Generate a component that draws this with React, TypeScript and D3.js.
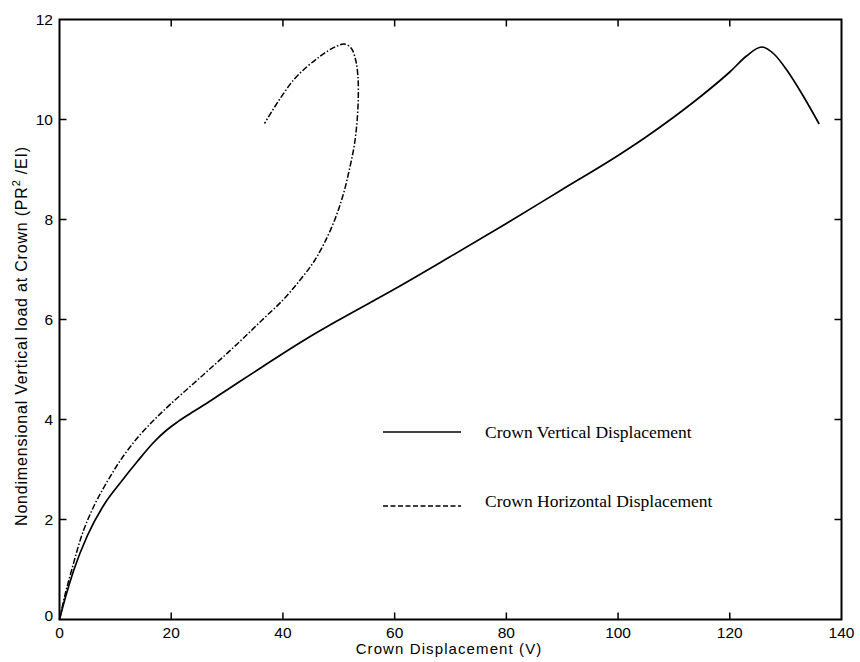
import React, { useEffect, useRef } from "react";
import * as d3 from "d3";

// Crown vertical displacement (solid)
const vertDisp = [0, 1, 2.5, 5, 8, 11, 14, 17, 19, 21, 23, 26, 29, 32, 36, 40, 44, 50, 60, 70, 80, 90, 100, 105, 110, 115, 120, 123, 125.7, 128, 130.2, 133.2, 136];
const vertLoad = [0, 0.42, 0.97, 1.68, 2.3, 2.75, 3.17, 3.56, 3.77, 3.94, 4.09, 4.3, 4.52, 4.74, 5.03, 5.32, 5.6, 5.99, 6.61, 7.26, 7.92, 8.6, 9.28, 9.65, 10.05, 10.48, 10.95, 11.27, 11.45, 11.3, 10.99, 10.46, 9.91];

// Crown horizontal displacement (dash-dot)
const horDisp = [0, 1, 2.2, 4.2, 6.3, 8.5, 11, 14, 17, 20, 24, 28, 32, 36, 40, 43, 45.5, 47.5, 49.3, 50.8, 51.9, 52.8, 53.3, 53.5, 53.4, 53, 52.2, 51, 49.5, 46.6, 41.9, 36.7];
const horLoad = [0, 0.5, 1, 1.75, 2.3, 2.75, 3.2, 3.64, 4, 4.32, 4.72, 5.12, 5.53, 5.96, 6.39, 6.78, 7.15, 7.55, 8, 8.5, 9, 9.5, 10, 10.5, 10.9, 11.2, 11.43, 11.51, 11.46, 11.26, 10.79, 9.92];

const xTicks = [0, 20, 40, 60, 80, 100, 120, 140];
const yTicks = [0, 2, 4, 6, 8, 10, 12];

const legendLabels = ["Crown Vertical Displacement", "Crown Horizontal Displacement"];

export default function App() {
  const ref = useRef<SVGSVGElement>(null);

  useEffect(() => {
    const svg = d3.select(ref.current);
    svg.selectAll("*").remove();

    const left = 59.5, right = 841.5, top = 19.5, bottom = 619.5;
    const x = d3.scaleLinear().domain([0, 140]).range([left, right]);
    const y = d3.scaleLinear().domain([0, 12]).range([bottom, top]);
    const sans = "'Liberation Sans', Arial, sans-serif";
    const serif = "'Liberation Serif', 'Times New Roman', serif";

    // frame
    svg.append("rect")
      .attr("x", left).attr("y", top)
      .attr("width", right - left).attr("height", bottom - top)
      .attr("fill", "none").attr("stroke", "#000").attr("stroke-width", 2);

    // inward ticks on all four sides
    const tl = 7;
    xTicks.slice(1, -1).forEach((t) => {
      svg.append("line").attr("x1", x(t)).attr("x2", x(t)).attr("y1", bottom).attr("y2", bottom - tl)
        .attr("stroke", "#000").attr("stroke-width", 1.5);
      svg.append("line").attr("x1", x(t)).attr("x2", x(t)).attr("y1", top).attr("y2", top + tl)
        .attr("stroke", "#000").attr("stroke-width", 1.5);
    });
    yTicks.slice(1, -1).forEach((t) => {
      svg.append("line").attr("x1", left).attr("x2", left + tl).attr("y1", y(t)).attr("y2", y(t))
        .attr("stroke", "#000").attr("stroke-width", 1.5);
      svg.append("line").attr("x1", right).attr("x2", right - tl).attr("y1", y(t)).attr("y2", y(t))
        .attr("stroke", "#000").attr("stroke-width", 1.5);
    });

    // tick labels
    svg.selectAll(".xl").data(xTicks).join("text")
      .attr("x", (d) => x(d)).attr("y", 638)
      .attr("text-anchor", "middle").style("font-family", sans).style("font-size", "15.5px")
      .text((d) => d);
    svg.selectAll(".yl").data(yTicks).join("text")
      .attr("x", 53).attr("y", (d) => (d === 0 ? y(d) + 1 : y(d) + 5.5))
      .attr("text-anchor", "end").style("font-family", sans).style("font-size", "15.5px")
      .text((d) => d);

    // axis titles
    svg.append("text").attr("x", 449).attr("y", 654).attr("text-anchor", "middle")
      .style("font-family", sans).style("font-size", "15px").style("letter-spacing", "1.1px")
      .text("Crown Displacement (V)");
    const yt = svg.append("text").attr("transform", "translate(27,336) rotate(-90)")
      .attr("text-anchor", "middle").style("font-family", sans).style("font-size", "16px")
      .style("letter-spacing", "0.8px");
    yt.append("tspan").text("Nondimensional Vertical load at Crown (PR");
    yt.append("tspan").attr("dy", -7).style("font-size", "11px").text("2");
    yt.append("tspan").attr("dy", 7).text(" /EI)");

    const pts = (xs: number[], ys: number[]) => xs.map((v, i) => [v, ys[i]] as [number, number]);

    const solid = d3.line<[number, number]>()
      .x((d) => x(d[0])).y((d) => y(d[1]))
      .curve(d3.curveMonotoneX);
    const loop = d3.line<[number, number]>()
      .x((d) => x(d[0])).y((d) => y(d[1]))
      .curve(d3.curveCatmullRom.alpha(0.5));

    svg.append("path").attr("d", solid(pts(vertDisp, vertLoad))).attr("fill", "none")
      .attr("stroke", "#000").attr("stroke-width", 1.7);
    svg.append("path").attr("d", loop(pts(horDisp, horLoad))).attr("fill", "none")
      .attr("stroke", "#000").attr("stroke-width", 1.5).attr("stroke-dasharray", "6,2,1.5,2");

    // legend
    const legY = [432, 506];
    const textY = [438, 507];
    const dashes = [null, "5,2.5"];
    legendLabels.forEach((lab, i) => {
      svg.append("line").attr("x1", 383).attr("x2", 461).attr("y1", legY[i]).attr("y2", legY[i])
        .attr("stroke", "#000").attr("stroke-width", 1.4).attr("stroke-dasharray", dashes[i]);
      svg.append("text").attr("x", 485).attr("y", textY[i])
        .style("font-family", serif).style("font-size", "17.5px").text(lab);
    });
  }, []);

  return (
    <svg ref={ref} width={860} height={662}
      style={{ position: "absolute", left: 0, top: 0, background: "#fff" }} />
  );
}
